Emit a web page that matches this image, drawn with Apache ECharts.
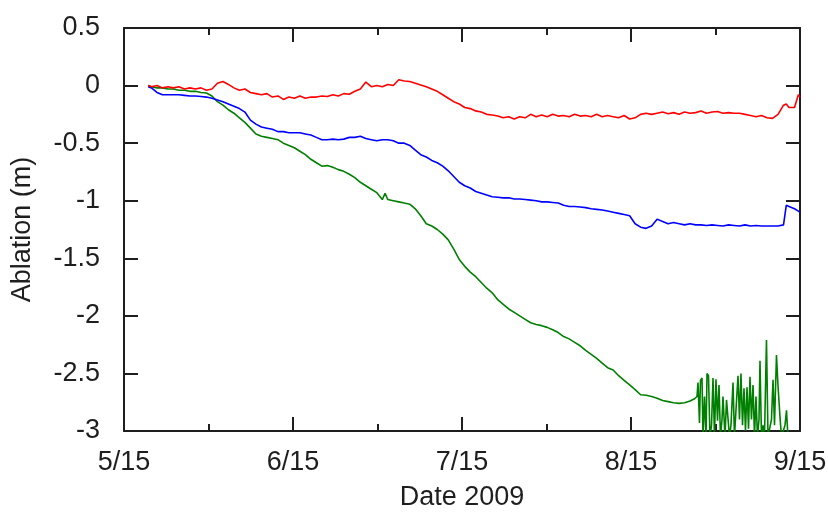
<!DOCTYPE html>
<html>
<head>
<meta charset="utf-8">
<script src="https://cdn.jsdelivr.net/npm/echarts@6/dist/echarts.min.js"></script>
<style>
  html, body { margin: 0; padding: 0; background: #fff; }
  #chart { width: 828px; height: 514px; }
</style>
</head>
<body>
<div id="chart"></div>
<script>
// Days counted from 15 May 2009; ablation in metres.
const xTickLabels = ['5/15', '6/15', '7/15', '8/15', '9/15'];
const yTickLabels = ['-3', '-2.5', '-2', '-1.5', '-1', '-0.5', '0', '0.5'];

const dailyDays = [4.4, 5, 6, 7, 8, 9, 10, 11, 12, 13, 14, 15, 16, 17, 18, 19, 20, 21, 22, 23, 24,
  25, 26, 27, 28, 29, 30, 31, 32, 33, 34, 35, 36, 37, 38, 39, 40, 41, 42, 43, 44, 45, 46, 47, 48,
  49, 50, 51, 52, 53, 54, 55, 56, 57, 58, 59, 60, 61, 62, 63, 64, 65, 66, 67, 68, 69, 70, 71, 72,
  73, 74, 75, 76, 77, 78, 79, 80, 81, 82, 83, 84, 85, 86, 87, 88, 89, 90, 91, 92, 93, 94, 95, 96,
  97, 98, 99, 100, 101, 102, 103, 104, 105, 106, 107, 108, 109, 110, 111, 112, 113, 114, 115, 116,
  117, 118, 119, 120, 120.5, 121, 122, 122.7, 123];

const redValues = [0, -0.01, 0, -0.02, -0.01, -0.02, -0.01, -0.03, -0.02, -0.03, -0.02, -0.04, -0.03,
  0.02, 0.035, 0.01, -0.02, -0.04, -0.03, -0.06, -0.07, -0.08, -0.07, -0.1, -0.09, -0.12, -0.1, -0.11,
  -0.09, -0.11, -0.1, -0.1, -0.09, -0.095, -0.08, -0.09, -0.07, -0.075, -0.05, -0.03, 0.03, -0.01, 0,
  -0.01, 0.01, 0, 0.05, 0.04, 0.035, 0.02, 0.005, -0.01, -0.03, -0.05, -0.08, -0.11, -0.14, -0.16,
  -0.19, -0.2, -0.22, -0.23, -0.25, -0.255, -0.265, -0.28, -0.27, -0.29, -0.27, -0.28, -0.25, -0.27,
  -0.255, -0.27, -0.25, -0.265, -0.26, -0.27, -0.25, -0.265, -0.26, -0.27, -0.25, -0.27, -0.26, -0.27,
  -0.28, -0.26, -0.29, -0.28, -0.25, -0.24, -0.25, -0.24, -0.23, -0.245, -0.235, -0.25, -0.23, -0.24,
  -0.235, -0.22, -0.24, -0.23, -0.225, -0.24, -0.235, -0.24, -0.24, -0.25, -0.26, -0.27, -0.26, -0.28,
  -0.285, -0.25, -0.17, -0.16, -0.19, -0.19, -0.08, -0.1];

const blueValues = [-0.01, -0.02, -0.06, -0.08, -0.08, -0.08, -0.08, -0.085, -0.09, -0.09, -0.095,
  -0.1, -0.11, -0.125, -0.14, -0.16, -0.18, -0.2, -0.23, -0.3, -0.335, -0.36, -0.37, -0.38, -0.4, -0.4,
  -0.41, -0.41, -0.41, -0.42, -0.43, -0.45, -0.47, -0.47, -0.465, -0.47, -0.465, -0.45, -0.45, -0.44,
  -0.46, -0.47, -0.48, -0.47, -0.47, -0.48, -0.5, -0.5, -0.52, -0.56, -0.6, -0.62, -0.65, -0.67, -0.7,
  -0.74, -0.79, -0.84, -0.87, -0.89, -0.92, -0.935, -0.95, -0.965, -0.97, -0.975, -0.975, -0.985,
  -0.985, -0.99, -0.995, -1.0, -1.01, -1.01, -1.015, -1.02, -1.04, -1.05, -1.05, -1.055, -1.06, -1.07,
  -1.075, -1.08, -1.09, -1.1, -1.11, -1.12, -1.13, -1.2, -1.23, -1.24, -1.22, -1.16, -1.18, -1.2,
  -1.19, -1.2, -1.21, -1.2, -1.21, -1.21, -1.215, -1.21, -1.215, -1.22, -1.21, -1.215, -1.22, -1.21,
  -1.22, -1.215, -1.22, -1.22, -1.22, -1.22, -1.21, -1.04, -1.05, -1.07, -1.09, -1.1];

const greenDays = [4.4, 5, 6, 7, 8, 9, 10, 11, 12, 13, 14, 15, 16, 17, 18, 19, 20, 21, 22, 23, 24,
  25, 26, 27, 28, 29, 30, 31, 32, 33, 34, 35, 36, 37, 38, 39, 40, 41, 42, 43, 44, 45, 46, 47, 47.5,
  48, 49, 50, 51, 52, 53, 54, 55, 56, 57, 58, 59, 60, 61, 62, 63, 64, 65, 66, 67, 68, 69, 70, 71, 72,
  73, 74, 75, 76, 77, 78, 79, 80, 81, 82, 83, 84, 85, 86, 87, 88, 89, 90, 91, 92, 93, 94, 95, 96,
  97, 98, 99, 100, 101, 102, 103, 103.82,
  104.26, 104.44, 104.71, 104.89, 105.17, 105.35, 105.62, 105.9, 106.08, 106.35, 106.62, 106.9,
  107.17, 107.44, 107.71, 107.99, 108.26, 108.53, 108.81, 108.99, 109.35, 109.63, 109.9, 110.17,
  110.44, 110.81, 111.08, 111.35, 111.72, 111.99, 112.26, 112.54, 112.81, 113.08, 113.36, 113.63,
  113.9, 114.17, 114.45, 114.72, 114.99, 115.26, 115.54, 115.72, 115.99, 116.27, 116.54, 116.9,
  117.18, 117.54, 117.81, 118.09, 118.36, 118.72, 118.99, 119.36, 119.63, 119.91, 120.27, 120.54,
  120.81];

const greenValues = [0, -0.01, -0.02, -0.02, -0.03, -0.03, -0.04, -0.04, -0.05, -0.05, -0.06, -0.065,
  -0.09, -0.14, -0.17, -0.21, -0.24, -0.28, -0.32, -0.37, -0.42, -0.44, -0.45, -0.46, -0.47, -0.5,
  -0.52, -0.54, -0.57, -0.6, -0.64, -0.67, -0.7, -0.695, -0.71, -0.73, -0.745, -0.77, -0.8, -0.84,
  -0.87, -0.9, -0.93, -0.99, -0.935, -0.99, -1.0, -1.01, -1.02, -1.03, -1.07, -1.13, -1.2, -1.22,
  -1.25, -1.29, -1.34, -1.42, -1.51, -1.57, -1.62, -1.66, -1.71, -1.76, -1.8, -1.86, -1.9, -1.94,
  -1.97, -2.0, -2.03, -2.06, -2.075, -2.085, -2.1, -2.12, -2.145, -2.18, -2.2, -2.23, -2.26, -2.3,
  -2.335, -2.37, -2.41, -2.45, -2.47, -2.52, -2.56, -2.6, -2.64, -2.685, -2.69, -2.7, -2.715, -2.735,
  -2.745, -2.755, -2.76, -2.755, -2.74, -2.72,
  -2.7, -2.58, -2.93, -2.56, -2.54, -3.05, -2.7, -3.05, -2.5, -2.52, -3.05, -2.95,
  -2.54, -3.05, -2.55, -2.91, -2.6, -3.05, -2.9, -2.7, -3.05, -2.73, -2.74, -3.05,
  -2.95, -2.58, -3.05, -2.82, -2.52, -2.9, -2.5, -2.95, -2.63, -3.0, -2.62, -2.98,
  -2.53, -2.9, -2.6, -3.05, -2.7, -3.05, -2.9, -2.39, -3.05, -2.95, -3.05, -2.21,
  -3.05, -3.05, -2.9, -2.555, -2.95, -2.34, -2.6, -2.88, -3.05, -3.05, -2.95, -2.82,
  -3.05];

const pair = (xs, ys) => xs.map((x, i) => [x, ys[i]]);

const FONT = "'Liberation Sans', Arial, Helvetica, sans-serif";
const INK = '#1e1e1e';
const X_STEP = 30.75;

const xCommon = {
  type: 'value', min: 0, max: 123, interval: X_STEP,
  axisLine: { show: true, onZero: false, lineStyle: { color: INK, width: 2 } },
  axisTick: { show: true, inside: true, length: 14, lineStyle: { color: INK, width: 2 } },
  minorTick: { show: true, splitNumber: 2, length: 7, lineStyle: { color: INK, width: 2 } },
  splitLine: { show: false }, minorSplitLine: { show: false }
};
const yCommon = {
  type: 'value', min: -3, max: 0.5, interval: 0.5,
  axisLine: { show: true, onZero: false, lineStyle: { color: INK, width: 2 } },
  axisTick: { show: true, inside: true, length: 14, lineStyle: { color: INK, width: 2 } },
  splitLine: { show: false }
};

const chart = echarts.init(document.getElementById('chart'), null, { renderer: 'canvas' });
chart.setOption({
  animation: false,
  backgroundColor: '#ffffff',
  textStyle: { fontFamily: FONT },
  grid: { left: 124, right: 28, top: 28, bottom: 83, containLabel: false, outerBoundsMode: 'none' },
  xAxis: [
    Object.assign({}, xCommon, {
      position: 'bottom',
      name: 'Date 2009', nameLocation: 'middle', nameGap: 53,
      nameTextStyle: { fontFamily: FONT, fontSize: 27, color: INK },
      axisLabel: {
        show: true, margin: 18, fontFamily: FONT, fontSize: 27, color: INK,
        formatter: v => xTickLabels[Math.round(v / X_STEP)] || ''
      }
    }),
    Object.assign({}, xCommon, { position: 'top', axisLabel: { show: false } })
  ],
  yAxis: [
    Object.assign({}, yCommon, {
      position: 'left',
      name: 'Ablation (m)', nameLocation: 'middle', nameRotate: 90, nameGap: 88,
      nameTextStyle: { fontFamily: FONT, fontSize: 27, color: INK },
      axisLabel: {
        show: true, margin: 24, fontFamily: FONT, fontSize: 27, color: INK,
        formatter: v => yTickLabels[Math.round((v + 3) / 0.5)] || ''
      }
    }),
    Object.assign({}, yCommon, { position: 'right', axisLabel: { show: false } })
  ],
  series: [
    {
      name: 'green', type: 'line', xAxisIndex: 0, yAxisIndex: 0,
      data: pair(greenDays, greenValues), showSymbol: false, symbol: 'none', clip: true,
      lineStyle: { color: '#008000', width: 1.6 }
    },
    {
      name: 'blue', type: 'line', xAxisIndex: 0, yAxisIndex: 0,
      data: pair(dailyDays, blueValues), showSymbol: false, symbol: 'none', clip: true,
      lineStyle: { color: '#0000ff', width: 1.6 }
    },
    {
      name: 'red', type: 'line', xAxisIndex: 0, yAxisIndex: 0,
      data: pair(dailyDays, redValues), showSymbol: false, symbol: 'none', clip: true,
      lineStyle: { color: '#ff0000', width: 1.6 }
    }
  ]
});
</script>
</body>
</html>
